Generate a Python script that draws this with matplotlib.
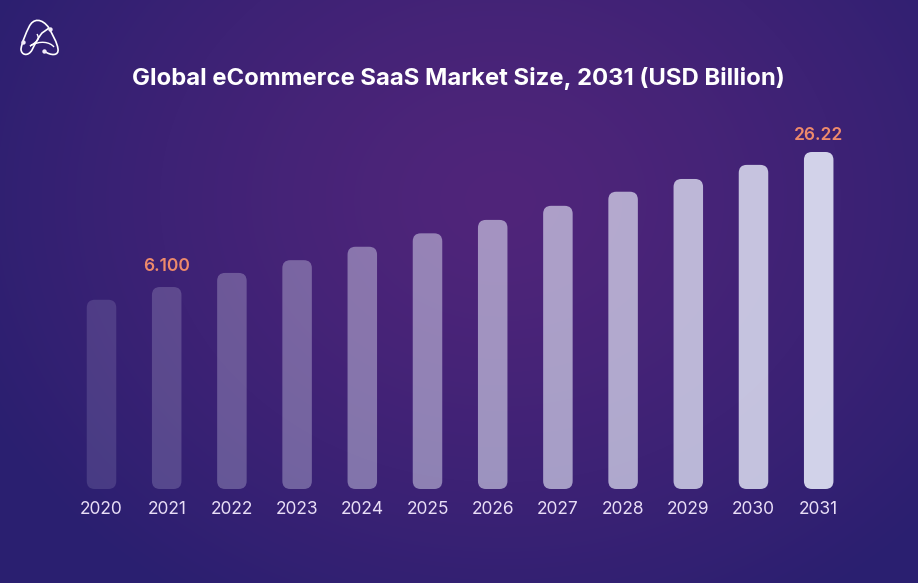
import numpy as np
import matplotlib
matplotlib.use("Agg")
import matplotlib.pyplot as plt
from matplotlib.patches import FancyBboxPatch, PathPatch
from matplotlib.path import Path
from matplotlib.colors import to_rgb

years = ["2020","2021","2022","2023","2024","2025","2026","2027","2028","2029","2030","2031"]
values = [4.2,6.1,8.2,10.1,12.1,14.1,16.1,18.2,20.3,22.2,24.3,26.22]
value_labels = {1:"6.100", 11:"26.22"}
title = "Global eCommerce SaaS Market Size, 2031 (USD Billion)"
bar_alphas = [0.14,0.20,0.27,0.33,0.41,0.48,0.56,0.62,0.67,0.74,0.80,0.88]
label_offsets = {1:21.0, 11:17.0}

W,H = 918,583
FONT = "Inter"
fig = plt.figure(figsize=(W/100,H/100),dpi=100)

# background radial gradient
bg = fig.add_axes([0,0,1,1]); bg.axis("off")
yy,xx = np.mgrid[0:H,0:W]
r = np.sqrt(((xx-500)/580)**2+((yy-200)/480)**2)
t = np.clip(r,0,1)[...,None]**1.3
inner = np.array(to_rgb("#50257a")); outer = np.array(to_rgb("#2a1f70"))
bg.imshow(inner*(1-t)+outer*t,aspect="auto",extent=(0,W,H,0))
bg.set_xlim(0,W); bg.set_ylim(H,0)

# bars
base_px, top_px = 489,152
ax = fig.add_axes([0,1-base_px/H,1,(base_px-top_px)/H])
ax.patch.set_alpha(0)
x0,dx = 101.5,65.2
ax.set_xlim((0-x0)/dx,(W-x0)/dx)
baseline = -24.0
ax.set_ylim(baseline,values[-1])
ypx = (values[-1]-baseline)/(base_px-top_px)
xpx = 1/dx
aspect = ypx/xpx
width = 29.5/dx
for i,v in enumerate(values):
    ax.add_patch(FancyBboxPatch((i-width/2,baseline),width,v-baseline,
        boxstyle=f"round,pad=0,rounding_size={8/dx}",mutation_aspect=aspect,
        fc="#e8ecfa",alpha=bar_alphas[i],ec="none",clip_on=False))
    if i in value_labels:
        ax.annotate(value_labels[i],(i,v),xytext=(0,label_offsets[i]),textcoords="offset pixels",ha="center",va="center",
                    color="#ee8a6b",fontsize=12.5,fontweight="semibold",family=FONT,annotation_clip=False)
ax.set_xticks(range(len(years)),years)
ax.tick_params(axis="x",length=0,pad=8.7,labelsize=12.5,labelcolor="#e9def7")
for l in ax.get_xticklabels(): l.set_family(FONT)
ax.set_yticks([])
for s in ax.spines.values(): s.set_visible(False)

fig.text(458.5/W,1-78.5/H,title,ha="center",va="center",color="white",fontsize=17.2,fontweight="bold",family=FONT)

# logo
lg = fig.add_axes([0,0,1,1]); lg.axis("off"); lg.patch.set_alpha(0)
lg.set_xlim(0,W); lg.set_ylim(H,0)
C,M,L = Path.CURVE4,Path.MOVETO,Path.LINETO
verts = [(49,28),(42,18),(33,18),(29,27),(26,33),(22,42),(21,49),(21,55),(28,57),(32,50),
         (35,44),(38,38),(42,33),(46,30),(48,29),(49,28)]
codes = [M,C,C,C,C,C,C,C,C,C,C,C,C,C,C,C]
lg.add_patch(PathPatch(Path(verts,codes),fc="none",ec="white",lw=1.2))
v2 = [(49,28),(53,36),(57,42),(58,49),(59,56),(51,56),(44,51)]
lg.add_patch(PathPatch(Path(v2,[M,C,C,C,C,C,C]),fc="none",ec="white",lw=1.2))
v3 = [(37,34),(39,38),(40,40),(30,46),(40,40),(50,42),(54,47)]
lg.add_patch(PathPatch(Path(v3,[M,C,C,L,C,C,C]),fc="none",ec="white",lw=1.0))
lg.scatter([23,50,44],[42,29,51],s=10,color="#f2ecfa",linewidths=0)

fig.savefig("out.png",dpi=100)
